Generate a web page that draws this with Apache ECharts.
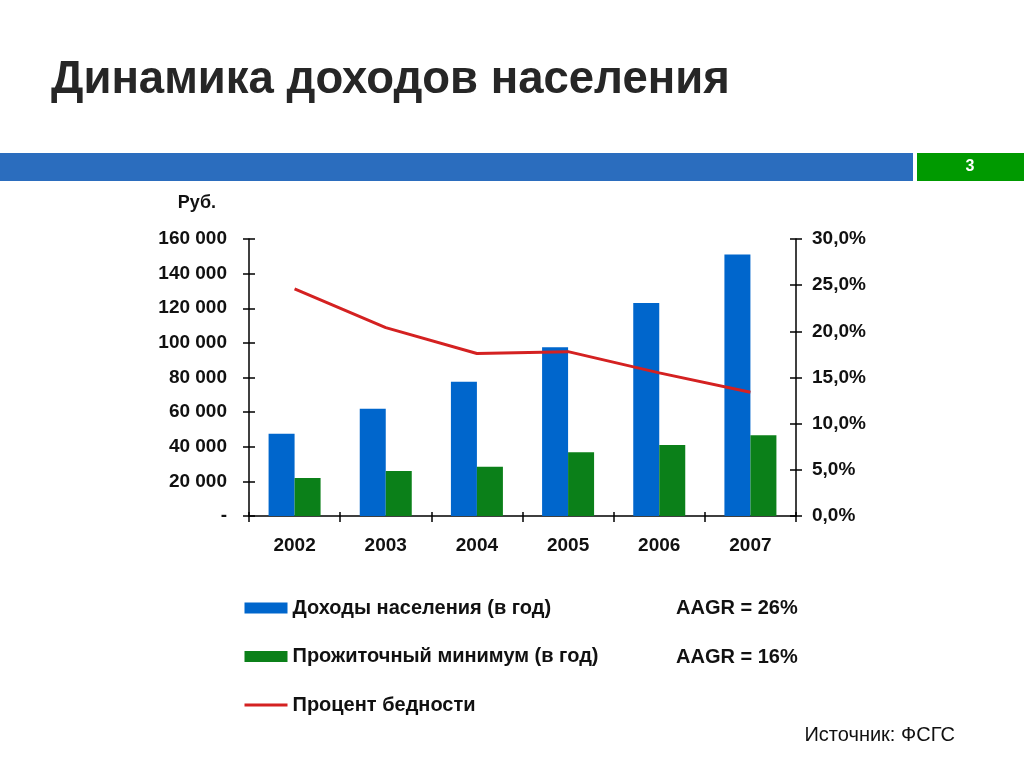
<!DOCTYPE html>
<html>
<head>
<meta charset="utf-8">
<script src="https://cdn.jsdelivr.net/npm/echarts@6/dist/echarts.min.js"></script>
<style>
html,body{margin:0;padding:0;background:#fff;}
#chart{width:1024px;height:768px;}
</style>
</head>
<body>
<div id="chart"></div>
<script>
const years = ['2002', '2003', '2004', '2005', '2006', '2007'];
const incomeValues = [47500, 62000, 77500, 97500, 123000, 151000];
const subsistenceValues = [22000, 26000, 28500, 36800, 41000, 46600];
const povertyValues = [24.6, 20.4, 17.6, 17.8, 15.5, 13.4];
const seriesNames = ['Доходы населения (в год)', 'Прожиточный минимум (в год)', 'Процент бедности'];
const aagrLabels = ['AAGR = 26%', 'AAGR = 16%'];
const titleText = 'Динамика доходов населения';
const unitText = 'Руб.';
const sourceText = 'Источник: ФСГС';
const pageNumber = '3';

const FONT = '"Liberation Sans", Arial, Helvetica, sans-serif';

const chart = echarts.init(document.getElementById('chart'), null, {renderer: 'canvas'});

function fmtRub(v) {
  if (v === 0) return '-';
  return String(v).replace(/\B(?=(\d{3})+(?!\d))/g, ' ');
}
function fmtPct(v) {
  return v.toFixed(1).replace('.', ',') + '%';
}

const tickStyle = {color: '#000', width: 1.5};

const option = {
  backgroundColor: '#ffffff',
  animation: false,
  textStyle: {fontFamily: FONT},
  title: {
    text: titleText,
    left: 46,
    top: 52,
    textStyle: {fontFamily: FONT, fontSize: 45.5, fontWeight: 'bold', color: '#262626'}
  },
  grid: {left: 249, right: 228, top: 239, bottom: 252, containLabel: false},
  legend: {
    orient: 'vertical',
    left: 243,
    top: 598,
    padding: 0,
    itemWidth: 43,
    itemHeight: 11,
    itemGap: 28.5,
    selectedMode: false,
    textStyle: {fontFamily: FONT, fontSize: 20, fontWeight: 'bold', color: '#111', lineHeight: 20},
    data: [
      {name: seriesNames[0], icon: 'rect'},
      {name: seriesNames[1], icon: 'rect'},
      {name: seriesNames[2], lineStyle: {width: 3, color: '#d42121'}, itemStyle: {opacity: 0, color: 'rgba(0,0,0,0)', borderWidth: 0}}
    ]
  },
  xAxis: [
    {
      type: 'category',
      data: years,
      axisLine: {lineStyle: {color: '#000', width: 1.5}},
      axisTick: {show: true, length: 6, lineStyle: tickStyle},
      axisLabel: {fontFamily: FONT, fontSize: 19, fontWeight: 'bold', color: '#111', margin: 20}
    },
    {
      type: 'category',
      data: years,
      position: 'bottom',
      axisLine: {show: false},
      axisTick: {show: true, inside: true, length: 4, lineStyle: tickStyle},
      axisLabel: {show: false}
    }
  ],
  yAxis: [
    {
      type: 'value',
      min: 0,
      max: 160000,
      interval: 20000,
      splitLine: {show: false},
      axisLine: {show: true, lineStyle: {color: '#000', width: 1.5}},
      axisTick: {show: true, length: 6, lineStyle: tickStyle},
      axisLabel: {fontFamily: FONT, fontSize: 19, fontWeight: 'bold', color: '#111', margin: 22, formatter: fmtRub}
    },
    {
      type: 'value',
      min: 0,
      max: 30,
      interval: 5,
      position: 'right',
      splitLine: {show: false},
      axisLine: {show: true, lineStyle: {color: '#000', width: 1.5}},
      axisTick: {show: true, length: 6, lineStyle: tickStyle},
      axisLabel: {fontFamily: FONT, fontSize: 19, fontWeight: 'bold', color: '#111', margin: 16, formatter: fmtPct}
    },
    {
      type: 'value',
      min: 0,
      max: 160000,
      interval: 20000,
      position: 'left',
      splitLine: {show: false},
      axisLine: {show: false},
      axisTick: {show: true, inside: true, length: 6, lineStyle: tickStyle},
      axisLabel: {show: false}
    },
    {
      type: 'value',
      min: 0,
      max: 30,
      interval: 5,
      position: 'right',
      splitLine: {show: false},
      axisLine: {show: false},
      axisTick: {show: true, inside: true, length: 6, lineStyle: tickStyle},
      axisLabel: {show: false}
    }
  ],
  series: [
    {
      name: seriesNames[0],
      type: 'bar',
      data: incomeValues,
      barWidth: 26,
      barGap: '0%',
      itemStyle: {color: '#0066cc'}
    },
    {
      name: seriesNames[1],
      type: 'bar',
      data: subsistenceValues,
      barWidth: 26,
      barGap: '0%',
      itemStyle: {color: '#0b8019'}
    },
    {
      name: seriesNames[2],
      type: 'line',
      yAxisIndex: 1,
      data: povertyValues,
      symbol: 'none',
      lineStyle: {color: '#d42121', width: 3},
      itemStyle: {color: '#d42121'}
    }
  ],
  graphic: [
    {type: 'rect', left: 0, top: 153, shape: {width: 913, height: 28}, style: {fill: '#2b6dbe'}},
    {type: 'rect', left: 917, top: 153, shape: {width: 107, height: 28}, style: {fill: '#009a00'}},
    {type: 'text', x: 970, y: 167, style: {text: pageNumber, fill: '#fff', font: 'bold 16px ' + FONT, align: 'center', verticalAlign: 'middle'}},
    {type: 'text', x: 216, y: 203, style: {text: unitText, fill: '#111', font: 'bold 18px ' + FONT, align: 'right', verticalAlign: 'middle'}},
    {type: 'text', x: 676, y: 608, style: {text: aagrLabels[0], fill: '#111', font: 'bold 20px ' + FONT, align: 'left', verticalAlign: 'middle'}},
    {type: 'text', x: 676, y: 657, style: {text: aagrLabels[1], fill: '#111', font: 'bold 20px ' + FONT, align: 'left', verticalAlign: 'middle'}},
    {type: 'text', x: 955, y: 735, style: {text: sourceText, fill: '#111', font: '20px ' + FONT, align: 'right', verticalAlign: 'middle'}}
  ]
};
chart.setOption(option);
</script>
</body>
</html>
